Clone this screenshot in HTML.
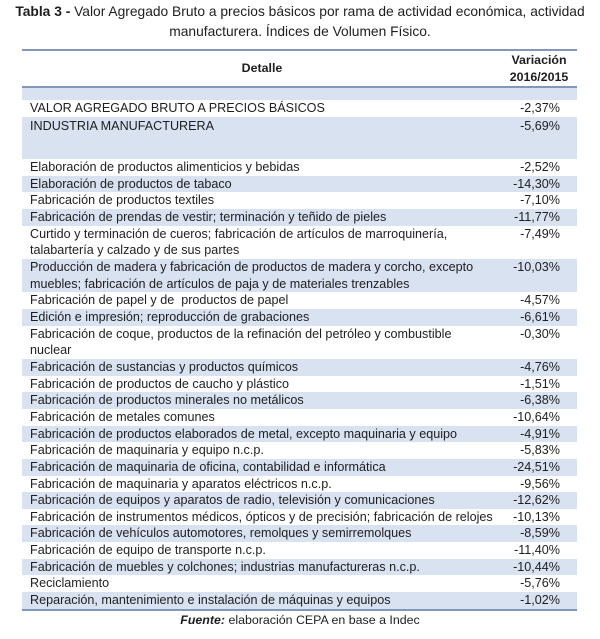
<!DOCTYPE html>
<html>
<head>
<meta charset="utf-8">
<style>
  html,body{margin:0;padding:0;background:#fff;}
  body{width:600px;height:639px;position:relative;overflow:hidden;font-family:"Liberation Sans",Arial,sans-serif;color:#1e1e1e;}
  .title{position:absolute;left:0;width:600px;text-align:center;font-size:13.8px;white-space:nowrap;line-height:20px;}
  .hline{position:absolute;left:22px;width:555px;height:2px;background:#7f98bb;}
  .hdr{position:absolute;font-weight:bold;font-size:12.4px;text-align:center;white-space:nowrap;}
  #rows{position:absolute;left:22px;top:159px;width:555px;}
  .r{position:relative;width:555px;font-size:12.6px;line-height:16.67px;white-space:nowrap;}
  .r .t{position:absolute;left:8px;top:0;}
  .r .v{position:absolute;right:17px;top:0;}
  .b{background:#d9e2f0;}
  .blk{position:absolute;left:22px;width:555px;}
</style>
</head>
<body>
<div class="title" style="top:2px;"><b>Tabla 3 -</b> Valor Agregado Bruto a precios básicos por rama de actividad económica, actividad</div>
<div class="title" style="top:22px;">manufacturera. Índices de Volumen Físico.</div>

<div class="hline" style="top:49px;"></div>
<div class="hdr" style="left:200px;width:124px;top:61px;">Detalle</div>
<div class="hdr" style="left:495px;width:88px;top:52px;line-height:16.5px;">Variación<br>2016/2015</div>
<div class="hline" style="top:86px;"></div>

<div class="blk b" style="top:88px;height:12px;"></div>
<div class="blk" style="top:100px;height:17px;font-size:12.6px;line-height:17px;">
  <span style="position:absolute;left:8px;">VALOR AGREGADO BRUTO A PRECIOS BÁSICOS</span>
  <span style="position:absolute;right:17px;">-2,37%</span>
</div>
<div class="blk b" style="top:117px;height:42px;font-size:12.6px;line-height:17px;">
  <span style="position:absolute;left:8px;top:1px;">INDUSTRIA MANUFACTURERA</span>
  <span style="position:absolute;right:17px;top:1px;">-5,69%</span>
</div>

<div id="rows">
  <div class="r" style="height:16.67px;"><span class="t">Elaboración de productos alimenticios y bebidas</span><span class="v">-2,52%</span></div>
  <div class="r b" style="height:16.67px;"><span class="t">Elaboración de productos de tabaco</span><span class="v">-14,30%</span></div>
  <div class="r" style="height:16.67px;"><span class="t">Fabricación de productos textiles</span><span class="v">-7,10%</span></div>
  <div class="r b" style="height:16.67px;"><span class="t">Fabricación de prendas de vestir; terminación y teñido de pieles</span><span class="v">-11,77%</span></div>
  <div class="r" style="height:33.33px;"><span class="t">Curtido y terminación de cueros; fabricación de artículos de marroquinería,<br>talabartería y calzado y de sus partes</span><span class="v">-7,49%</span></div>
  <div class="r b" style="height:33.33px;"><span class="t">Producción de madera y fabricación de productos de madera y corcho, excepto<br>muebles; fabricación de artículos de paja y de materiales trenzables</span><span class="v">-10,03%</span></div>
  <div class="r" style="height:16.67px;"><span class="t">Fabricación de papel y de&nbsp; productos de papel</span><span class="v">-4,57%</span></div>
  <div class="r b" style="height:16.67px;"><span class="t">Edición e impresión; reproducción de grabaciones</span><span class="v">-6,61%</span></div>
  <div class="r" style="height:33.33px;"><span class="t">Fabricación de coque, productos de la refinación del petróleo y combustible<br>nuclear</span><span class="v">-0,30%</span></div>
  <div class="r b" style="height:16.67px;"><span class="t">Fabricación de sustancias y productos químicos</span><span class="v">-4,76%</span></div>
  <div class="r" style="height:16.67px;"><span class="t">Fabricación de productos de caucho y plástico</span><span class="v">-1,51%</span></div>
  <div class="r b" style="height:16.67px;"><span class="t">Fabricación de productos minerales no metálicos</span><span class="v">-6,38%</span></div>
  <div class="r" style="height:16.67px;"><span class="t">Fabricación de metales comunes</span><span class="v">-10,64%</span></div>
  <div class="r b" style="height:16.67px;"><span class="t">Fabricación de productos elaborados de metal, excepto maquinaria y equipo</span><span class="v">-4,91%</span></div>
  <div class="r" style="height:16.67px;"><span class="t">Fabricación de maquinaria y equipo n.c.p.</span><span class="v">-5,83%</span></div>
  <div class="r b" style="height:16.67px;"><span class="t">Fabricación de maquinaria de oficina, contabilidad e informática</span><span class="v">-24,51%</span></div>
  <div class="r" style="height:16.67px;"><span class="t">Fabricación de maquinaria y aparatos eléctricos n.c.p.</span><span class="v">-9,56%</span></div>
  <div class="r b" style="height:16.67px;"><span class="t">Fabricación de equipos y aparatos de radio, televisión y comunicaciones</span><span class="v">-12,62%</span></div>
  <div class="r" style="height:16.67px;"><span class="t">Fabricación de instrumentos médicos, ópticos y de precisión; fabricación de relojes</span><span class="v">-10,13%</span></div>
  <div class="r b" style="height:16.67px;"><span class="t">Fabricación de vehículos automotores, remolques y semirremolques</span><span class="v">-8,59%</span></div>
  <div class="r" style="height:16.67px;"><span class="t">Fabricación de equipo de transporte n.c.p.</span><span class="v">-11,40%</span></div>
  <div class="r b" style="height:16.67px;"><span class="t">Fabricación de muebles y colchones; industrias manufactureras n.c.p.</span><span class="v">-10,44%</span></div>
  <div class="r" style="height:16.67px;"><span class="t">Reciclamiento</span><span class="v">-5,76%</span></div>
  <div class="r b" style="height:16.67px;"><span class="t">Reparación, mantenimiento e instalación de máquinas y equipos</span><span class="v">-1,02%</span></div>
</div>
<div class="hline" style="top:609px;"></div>

<div style="position:absolute;left:0;width:600px;top:612px;text-align:center;font-size:12.4px;line-height:16px;white-space:nowrap;"><b><i>Fuente:</i></b> elaboración CEPA en base a Indec</div>
</body>
</html>
